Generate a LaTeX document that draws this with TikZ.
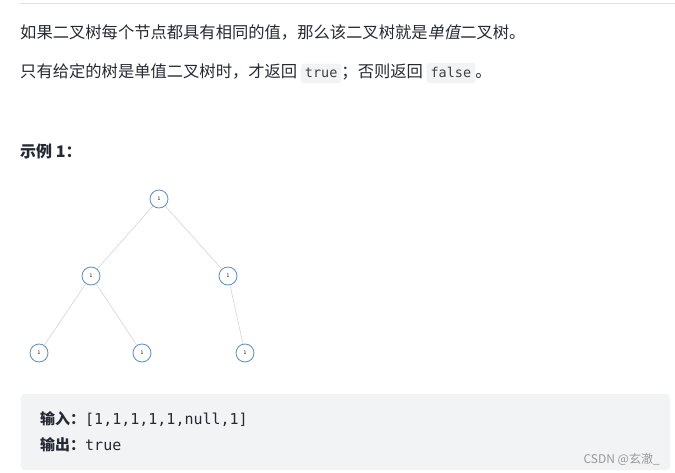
\documentclass[tikz,border=0pt]{standalone}
\usepackage{fontspec}
\setmainfont{Noto Sans CJK SC}
\setmonofont{DejaVu Sans Mono}
\newfontfamily\slantcjk[FakeSlant=0.2]{Noto Sans CJK SC}
\definecolor{treeblue}{HTML}{5B8FC9}
\definecolor{edgegray}{HTML}{D4D4D4}
\definecolor{codebg}{HTML}{F2F3F5}
\definecolor{textdark}{HTML}{252933}
\begin{document}
\begin{tikzpicture}[x=1pt,y=-1pt]
\useasboundingbox (0,0) rectangle (675,473);
\tikzset{
  tnode/.style={circle, draw=treeblue, line width=0.8pt, fill=white, minimum size=18pt, inner sep=0pt, font=\fontsize{5}{5}\selectfont},
  tedge/.style={edgegray, line width=0.6pt},
  codebox/.style={fill=codebg, rounded corners=3pt, inner xsep=4pt, inner ysep=5pt, font=\ttfamily\fontsize{13.5}{15}\selectfont, text=black!75},
  para/.style={anchor=base west, inner sep=0pt, text=textdark, font=\fontsize{16.3}{18}\selectfont}
}

% rule at the top
\draw[black!12, line width=0.8pt] (20,3) -- (675,3);

\node[para] (line1) at (20,39) {如果二叉树每个节点都具有相同的值，那么该二叉树就是{\slantcjk 单值}二叉树。};
\node[para] (line2) at (20,78) {只有给定的树是单值二叉树时，才返回
  \tikz[baseline=(t.base)]\node[codebox] (t) {true};；否则返回
  \tikz[baseline=(f.base)]\node[codebox] (f) {false};。};

\node[para, font=\bfseries\fontsize{16}{18}\selectfont] (ex) at (20,158) {示例 1：};

% the tree
\node[tnode] (r) at (159,199) {1};
\node[tnode] (a) at (91,276) {1};
\node[tnode] (b) at (228,276) {1};
\node[tnode] (c) at (39,353) {1};
\node[tnode] (d) at (142,353) {1};
\node[tnode] (e) at (245,353) {1};
\draw[tedge] (r) -- (a);
\draw[tedge] (r) -- (b);
\draw[tedge] (a) -- (c);
\draw[tedge] (a) -- (d);
\draw[tedge] (b) -- (e);

% example box
\fill[codebg, rounded corners=4pt] (21,394) rectangle (670,470);
\node[anchor=base west, inner sep=0pt, text=textdark] (inp) at (40,424)
  {\bfseries\fontsize{15}{17}\selectfont 输入：\mdseries\ttfamily\fontsize{15}{17}\selectfont[1,1,1,1,1,null,1]};
\node[anchor=base west, inner sep=0pt, text=textdark] (outp) at (40,450)
  {\bfseries\fontsize{15}{17}\selectfont 输出：\mdseries\ttfamily\fontsize{15}{17}\selectfont true};
\node[anchor=base east, inner sep=0pt, text=black!40, font=\fontsize{12}{14}\selectfont] (wm) at (660,463) {CSDN @玄澈\_};
\end{tikzpicture}
\end{document}
